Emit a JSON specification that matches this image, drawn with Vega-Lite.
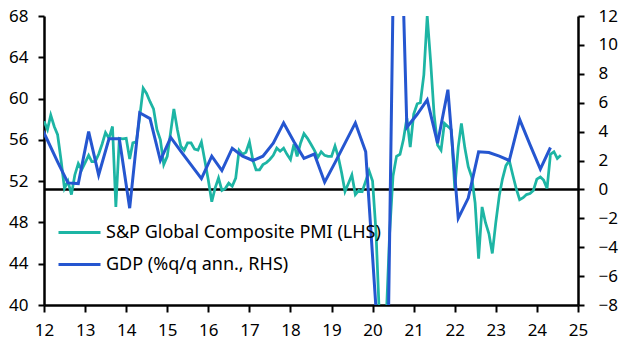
{
  "$schema": "https://vega.github.io/schema/vega-lite/v6.json",
  "width": 534,
  "height": 289,
  "autosize": {"type": "none"},
  "padding": {"left": 44, "top": 16, "right": 52, "bottom": 50},
  "background": "white",
  "config": {
    "view": {"stroke": null},
    "font": "Noto Sans",
    "axis": {
      "domainColor": "black", "domainWidth": 2.5, "tickColor": "black", "tickWidth": 2, "tickSize": 6,
      "labelColor": "black", "labelFont": "Noto Sans", "labelFontSize": 17, "grid": false, "title": null,
      "labelFlush": false, "labelOverlap": false
    }
  },
  "datasets": {
    "pmi": [
      {"d": "2012-01-01", "v": 57.8}, {"d": "2012-02-01", "v": 57.0}, {"d": "2012-03-01", "v": 58.4}, {"d": "2012-04-01", "v": 57.3},
      {"d": "2012-05-01", "v": 56.5}, {"d": "2012-06-01", "v": 54.0}, {"d": "2012-07-01", "v": 51.3}, {"d": "2012-08-01", "v": 52.0},
      {"d": "2012-09-01", "v": 50.7}, {"d": "2012-10-01", "v": 52.6}, {"d": "2012-11-01", "v": 53.7}, {"d": "2012-12-01", "v": 53.1},
      {"d": "2013-01-01", "v": 53.8}, {"d": "2013-02-01", "v": 54.5}, {"d": "2013-03-01", "v": 53.9}, {"d": "2013-04-01", "v": 53.9},
      {"d": "2013-05-01", "v": 54.6}, {"d": "2013-06-01", "v": 55.6}, {"d": "2013-07-01", "v": 56.7}, {"d": "2013-08-01", "v": 56.15},
      {"d": "2013-09-01", "v": 57.3}, {"d": "2013-10-01", "v": 49.5}, {"d": "2013-11-01", "v": 56.15}, {"d": "2013-12-01", "v": 56.1},
      {"d": "2014-01-01", "v": 56.15}, {"d": "2014-02-01", "v": 54.15}, {"d": "2014-03-01", "v": 55.7}, {"d": "2014-04-01", "v": 55.8},
      {"d": "2014-05-01", "v": 58.2}, {"d": "2014-06-01", "v": 61.0}, {"d": "2014-07-01", "v": 60.5}, {"d": "2014-08-01", "v": 59.7},
      {"d": "2014-09-01", "v": 59.0}, {"d": "2014-10-01", "v": 57.0}, {"d": "2014-11-01", "v": 56.0}, {"d": "2014-12-01", "v": 53.6},
      {"d": "2015-01-01", "v": 54.4}, {"d": "2015-02-01", "v": 56.8}, {"d": "2015-03-01", "v": 59.0}, {"d": "2015-04-01", "v": 57.0},
      {"d": "2015-05-01", "v": 55.4}, {"d": "2015-06-01", "v": 55.0}, {"d": "2015-07-01", "v": 55.7}, {"d": "2015-08-01", "v": 55.7},
      {"d": "2015-09-01", "v": 55.1}, {"d": "2015-10-01", "v": 55.0}, {"d": "2015-11-01", "v": 55.8}, {"d": "2015-12-01", "v": 54.0},
      {"d": "2016-01-01", "v": 52.1}, {"d": "2016-02-01", "v": 50.0}, {"d": "2016-03-01", "v": 51.3}, {"d": "2016-04-01", "v": 52.3},
      {"d": "2016-05-01", "v": 51.1}, {"d": "2016-06-01", "v": 51.3}, {"d": "2016-07-01", "v": 51.8}, {"d": "2016-08-01", "v": 51.5},
      {"d": "2016-09-01", "v": 52.3}, {"d": "2016-10-01", "v": 55.0}, {"d": "2016-11-01", "v": 54.6}, {"d": "2016-12-01", "v": 54.8},
      {"d": "2017-01-01", "v": 55.8}, {"d": "2017-02-01", "v": 54.0}, {"d": "2017-03-01", "v": 53.1}, {"d": "2017-04-01", "v": 53.1},
      {"d": "2017-05-01", "v": 53.6}, {"d": "2017-06-01", "v": 53.8}, {"d": "2017-07-01", "v": 54.1}, {"d": "2017-08-01", "v": 54.5},
      {"d": "2017-09-01", "v": 55.2}, {"d": "2017-10-01", "v": 54.9}, {"d": "2017-11-01", "v": 55.2}, {"d": "2017-12-01", "v": 54.6},
      {"d": "2018-01-01", "v": 54.1}, {"d": "2018-02-01", "v": 55.6}, {"d": "2018-03-01", "v": 54.4}, {"d": "2018-04-01", "v": 55.7},
      {"d": "2018-05-01", "v": 56.6}, {"d": "2018-06-01", "v": 56.15}, {"d": "2018-07-01", "v": 55.6}, {"d": "2018-08-01", "v": 55.0},
      {"d": "2018-09-01", "v": 54.3}, {"d": "2018-10-01", "v": 54.85}, {"d": "2018-11-01", "v": 54.5}, {"d": "2018-12-01", "v": 54.4},
      {"d": "2019-01-01", "v": 54.4}, {"d": "2019-02-01", "v": 55.4}, {"d": "2019-03-01", "v": 54.4}, {"d": "2019-04-01", "v": 52.8},
      {"d": "2019-05-01", "v": 51.0}, {"d": "2019-06-01", "v": 51.8}, {"d": "2019-07-01", "v": 52.6}, {"d": "2019-08-01", "v": 50.7},
      {"d": "2019-09-01", "v": 51.1}, {"d": "2019-10-01", "v": 51.0}, {"d": "2019-11-01", "v": 52.0}, {"d": "2019-12-01", "v": 53.0},
      {"d": "2020-01-01", "v": 52.0}, {"d": "2020-02-01", "v": 47.0}, {"d": "2020-03-01", "v": 39.0}, {"d": "2020-04-01", "v": 27.0},
      {"d": "2020-05-01", "v": 38.5}, {"d": "2020-06-01", "v": 47.0}, {"d": "2020-07-01", "v": 52.5}, {"d": "2020-08-01", "v": 54.4},
      {"d": "2020-09-01", "v": 54.6}, {"d": "2020-10-01", "v": 56.0}, {"d": "2020-11-01", "v": 58.1}, {"d": "2020-12-01", "v": 55.3},
      {"d": "2021-01-01", "v": 58.5}, {"d": "2021-02-01", "v": 59.5}, {"d": "2021-03-01", "v": 59.6}, {"d": "2021-04-01", "v": 62.3},
      {"d": "2021-05-01", "v": 68.0}, {"d": "2021-06-01", "v": 63.5}, {"d": "2021-07-01", "v": 58.5}, {"d": "2021-08-01", "v": 55.5},
      {"d": "2021-09-01", "v": 55.0}, {"d": "2021-10-01", "v": 57.6}, {"d": "2021-11-01", "v": 57.3}, {"d": "2021-12-01", "v": 57.0},
      {"d": "2022-01-01", "v": 51.3}, {"d": "2022-02-01", "v": 55.3}, {"d": "2022-03-01", "v": 57.6}, {"d": "2022-04-01", "v": 55.2},
      {"d": "2022-05-01", "v": 53.4}, {"d": "2022-06-01", "v": 52.4}, {"d": "2022-07-01", "v": 49.9}, {"d": "2022-08-01", "v": 44.5},
      {"d": "2022-09-01", "v": 49.5}, {"d": "2022-10-01", "v": 48.0}, {"d": "2022-11-01", "v": 46.9}, {"d": "2022-12-01", "v": 45.0},
      {"d": "2023-01-01", "v": 48.0}, {"d": "2023-02-01", "v": 50.6}, {"d": "2023-03-01", "v": 52.2}, {"d": "2023-04-01", "v": 53.5},
      {"d": "2023-05-01", "v": 54.0}, {"d": "2023-06-01", "v": 52.6}, {"d": "2023-07-01", "v": 51.3}, {"d": "2023-08-01", "v": 50.2},
      {"d": "2023-09-01", "v": 50.4}, {"d": "2023-10-01", "v": 50.7}, {"d": "2023-11-01", "v": 50.8}, {"d": "2023-12-01", "v": 51.1},
      {"d": "2024-01-01", "v": 52.2}, {"d": "2024-02-01", "v": 52.4}, {"d": "2024-03-01", "v": 52.1}, {"d": "2024-04-01", "v": 51.3},
      {"d": "2024-05-01", "v": 54.6}, {"d": "2024-06-01", "v": 54.85}, {"d": "2024-07-01", "v": 54.2}, {"d": "2024-08-01", "v": 54.5}
    ],
    "gdp": [
      {"d": "2011-11-01", "g": 4.9},
      {"d": "2012-02-01", "g": 3.4}, {"d": "2012-05-01", "g": 1.9}, {"d": "2012-08-01", "g": 0.45}, {"d": "2012-11-01", "g": 0.4},
      {"d": "2013-02-01", "g": 4.0}, {"d": "2013-05-01", "g": 1.0}, {"d": "2013-08-01", "g": 3.5}, {"d": "2013-11-01", "g": 3.5},
      {"d": "2014-02-01", "g": -1.3}, {"d": "2014-05-01", "g": 5.3}, {"d": "2014-08-01", "g": 4.9}, {"d": "2014-11-01", "g": 2.0},
      {"d": "2015-02-01", "g": 3.6}, {"d": "2015-05-01", "g": 2.65}, {"d": "2015-08-01", "g": 1.7}, {"d": "2015-11-01", "g": 0.75},
      {"d": "2016-02-01", "g": 2.3}, {"d": "2016-05-01", "g": 1.3}, {"d": "2016-08-01", "g": 2.85}, {"d": "2016-11-01", "g": 2.3},
      {"d": "2017-02-01", "g": 2.0}, {"d": "2017-05-01", "g": 2.3}, {"d": "2017-08-01", "g": 3.2}, {"d": "2017-11-01", "g": 4.6},
      {"d": "2018-02-01", "g": 3.3}, {"d": "2018-05-01", "g": 2.15}, {"d": "2018-08-01", "g": 2.45}, {"d": "2018-11-01", "g": 0.5},
      {"d": "2019-02-01", "g": 1.85}, {"d": "2019-05-01", "g": 3.2}, {"d": "2019-08-01", "g": 4.6}, {"d": "2019-11-01", "g": 2.6},
      {"d": "2020-02-01", "g": -8.3}, {"d": "2020-05-01", "g": -20.0}, {"d": "2020-08-01", "g": 30.0}, {"d": "2020-11-01", "g": 4.3},
      {"d": "2021-02-01", "g": 5.2}, {"d": "2021-05-01", "g": 6.2}, {"d": "2021-08-01", "g": 3.2}, {"d": "2021-11-01", "g": 6.9},
      {"d": "2022-02-01", "g": -2.0}, {"d": "2022-05-01", "g": -0.6}, {"d": "2022-08-01", "g": 2.6}, {"d": "2022-11-01", "g": 2.55},
      {"d": "2023-02-01", "g": 2.3}, {"d": "2023-05-01", "g": 2.0}, {"d": "2023-08-01", "g": 4.85}, {"d": "2023-11-01", "g": 3.1},
      {"d": "2024-02-01", "g": 1.4}, {"d": "2024-05-01", "g": 2.9}
    ]
  },
  "layer": [
    {
      "data": {"values": [{}]},
      "mark": {"type": "rule", "color": "black", "strokeWidth": 2.5},
      "encoding": {
        "y": {"datum": 0, "type": "quantitative", "scale": {"domain": [-8, 12], "nice": false, "zero": false}, "axis": null}
      }
    },
    {
      "data": {"name": "pmi"},
      "mark": {"type": "line", "strokeWidth": 2.75, "clip": true},
      "encoding": {
        "x": {
          "field": "d", "type": "temporal",
          "scale": {"domain": ["2012-01-01", "2025-01-01"], "nice": false},
          "axis": {"format": "%y", "tickCount": {"interval": "year", "step": 1}, "labelPadding": 10, "tickSize": 7}
        },
        "y": {
          "field": "v", "type": "quantitative",
          "scale": {"domain": [40, 68], "nice": false, "zero": false},
          "axis": {"orient": "left", "values": [40, 44, 48, 52, 56, 60, 64, 68], "labelPadding": 10}
        },
        "color": {
          "datum": "S&P Global Composite PMI (LHS)", "type": "nominal",
          "scale": {"domain": ["S&P Global Composite PMI (LHS)", "GDP (%q/q ann., RHS)"], "range": ["#1DB5A4", "#2556D0"]},
          "legend": {
            "orient": "none", "legendX": 13, "legendY": 194, "title": null, "padding": 0,
            "symbolType": "stroke", "symbolSize": 1764, "symbolStrokeWidth": 3,
            "labelFont": "Noto Sans", "labelFontSize": 18, "labelColor": "black", "labelOffset": 4, "labelLimit": 500,
            "rowPadding": -7
          }
        }
      }
    },
    {
      "data": {"name": "gdp"},
      "mark": {"type": "line", "strokeWidth": 3, "clip": true},
      "encoding": {
        "x": {"field": "d", "type": "temporal"},
        "y": {
          "field": "g", "type": "quantitative",
          "scale": {"domain": [-8, 12], "nice": false, "zero": false},
          "axis": {"orient": "right", "values": [-8, -6, -4, -2, 0, 2, 4, 6, 8, 10, 12], "labelPadding": 14}
        },
        "color": {"datum": "GDP (%q/q ann., RHS)", "type": "nominal"}
      }
    }
  ],
  "resolve": {"scale": {"y": "independent"}}
}
